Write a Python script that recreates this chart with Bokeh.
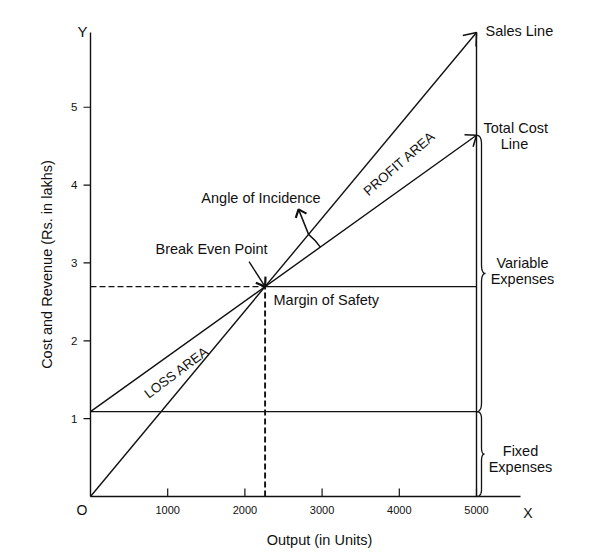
import math
import numpy as np
from bokeh.plotting import figure
from bokeh.models import Range1d, Label
from bokeh.core.properties import value
from bokeh.embed import file_html
from bokeh.resources import INLINE

# ---------------- data ----------------
output_units = [0, 5000]          # Output (in Units)
sales_revenue = [0.0, 5.96]       # Sales line (Rs. in lakhs)
total_cost = [1.09, 4.64]         # Total cost line
fixed_cost = [1.09, 1.09]         # Fixed expenses line
x_ticks = [1000, 2000, 3000, 4000, 5000]
x_tick_labels = ["1000", "2000", "3000", "4000", "5000"]
y_ticks = [1, 2, 3, 4, 5]
y_tick_labels = ["1", "2", "3", "4", "5"]

# ---------------- layout (pixel geometry of the drawing) ----------------
W, H = 600, 553
ORIGIN_PX = (90, 496)            # canvas position of the origin
X_SPAN_PX = 386                   # 0 -> 5000 units
Y_SPAN_PX = 464                   # 0 -> 5.96 lakhs
KX = X_SPAN_PX / output_units[1]
KY = Y_SPAN_PX / sales_revenue[1]
X_AXIS_END = (520 - ORIGIN_PX[0]) / KX

FONT = "Liberation Sans"
INK = "#111111"
LW = 1.4


def ox(px):
    return px / KX


def oy(px):
    return px / KY


def at_px(px, py):
    """canvas pixel position -> data coordinates (for annotations only)"""
    return (px - ORIGIN_PX[0]) / KX, (ORIGIN_PX[1] - py) / KY


x0d, y1d = at_px(0, 0)
x1d, y0d = at_px(W, H)

p = figure(width=W, height=H, x_range=Range1d(x0d, x1d), y_range=Range1d(y0d, y1d),
           output_backend="svg", toolbar_location=None,
           x_axis_location=None, y_axis_location=None,
           min_border_left=0, min_border_right=0, min_border_top=0, min_border_bottom=0)
p.background_fill_color = "white"
p.border_fill_color = "white"
p.outline_line_color = None
p.xgrid.grid_line_color = None
p.ygrid.grid_line_color = None

# ---------------- axes (drawn) ----------------
p.line([0, X_AXIS_END], [0, 0], line_color=INK, line_width=LW)
p.line([0, 0], [0, sales_revenue[1]], line_color=INK, line_width=LW)
p.segment(x0=x_ticks, y0=[0] * len(x_ticks), x1=x_ticks, y1=[oy(8)] * len(x_ticks),
          line_color=INK, line_width=1.2)
p.segment(x0=[ox(-7)] * len(y_ticks), y0=y_ticks, x1=[0] * len(y_ticks), y1=y_ticks,
          line_color=INK, line_width=1.2)
p.text(x=x_ticks, y=[0] * len(x_ticks), text=x_tick_labels, y_offset=13.5,
       text_align="center", text_baseline="middle", text_color=INK,
       text_font=value(FONT), text_font_size=value("11px"))
p.text(x=[0] * len(y_ticks), y=y_ticks, text=y_tick_labels, x_offset=-13,
       text_align="right", text_baseline="middle", text_color=INK,
       text_font=value(FONT), text_font_size=value("11.5px"))

# break-even point derived from the two lines
s_slope = (sales_revenue[1] - sales_revenue[0]) / (output_units[1] - output_units[0])
c_slope = (total_cost[1] - total_cost[0]) / (output_units[1] - output_units[0])
bep_x = (total_cost[0] - sales_revenue[0]) / (s_slope - c_slope)
bep_y = sales_revenue[0] + s_slope * bep_x

# ---------------- main lines ----------------
p.line(output_units, sales_revenue, line_color=INK, line_width=LW)
p.line(output_units, total_cost, line_color=INK, line_width=LW)
p.line(output_units, fixed_cost, line_color=INK, line_width=LW)
p.line([output_units[1], output_units[1]], [0, sales_revenue[1]], line_color=INK, line_width=LW)
p.line([bep_x, output_units[1]], [bep_y, bep_y], line_color=INK, line_width=LW)
p.line([0, bep_x], [bep_y, bep_y], line_color=INK, line_width=1.3, line_dash="6 3")
p.line([bep_x, bep_x], [0, bep_y], line_color=INK, line_width=1.9, line_dash="6 3")


def arrow_head(tx, ty, ang, length=13, half=math.radians(38)):
    xs, ys = [], []
    for s in (-1, 1):
        a = ang + math.pi + s * half
        xs.append(tx + ox(length * math.cos(a)))
        ys.append(ty + oy(length * math.sin(a)))
    return [xs[0], tx, xs[1]], [ys[0], ty, ys[1]]


ang_sales = math.atan2(s_slope * KY, KX)
ang_cost = math.atan2(c_slope * KY, KX)

heads_x, heads_y = [], []
hx, hy = arrow_head(output_units[1], sales_revenue[1], ang_sales, 14)
heads_x.append(hx); heads_y.append(hy)
hx, hy = arrow_head(output_units[1], total_cost[1], ang_cost, 12)
heads_x.append(hx); heads_y.append(hy)
p.multi_line(heads_x, heads_y, line_color=INK, line_width=1.5)

# break-even point pointer
bx0, by0 = bep_x + ox(-16), bep_y + oy(25)
p.line([bx0, bep_x], [by0, bep_y], line_color=INK, line_width=1.4)
hx, hy = arrow_head(bep_x, bep_y, math.atan2(-25, 16), 10, math.radians(35))
p.multi_line([hx], [hy], line_color=INK, line_width=2.2)

# angle of incidence arc and pointer
R = 68
p.arc(x=[bep_x], y=[bep_y], radius=R, radius_units="screen",
      start_angle=ang_cost, end_angle=ang_sales, direction="anticlock",
      line_color=INK, line_width=1.4)
ax0 = bep_x + ox(R * math.cos(ang_sales))
ay0 = bep_y + oy(R * math.sin(ang_sales))
ax1, ay1 = ax0 + ox(-10), ay0 + oy(25)
p.line([ax0, ax1], [ay0, ay1], line_color=INK, line_width=1.5)
hx, hy = arrow_head(ax1, ay1, math.atan2(25, -10), 9, math.radians(40))
p.multi_line([hx], [hy], line_color=INK, line_width=2.2)


# ---------------- curly braces right of the 5000 line ----------------
def quad(p0, c, p1, n=12):
    t = np.linspace(0, 1, n)
    return [(1 - t) ** 2 * p0[k] + 2 * (1 - t) * t * c[k] + t ** 2 * p1[k] for k in (0, 1)]


def brace(x0, y_top, y_bot, w=5, tip=9, r=9):
    top = 0.0
    bot = (y_top - y_bot) * KY
    mid = bot / 2
    segs = [
        quad((0, top), (w, top), (w, top + r)),
        [np.array([w, w]), np.array([top + r, mid - r])],
        quad((w, mid - r), (w, mid), (tip, mid)),
        quad((tip, mid), (w, mid), (w, mid + r)),
        [np.array([w, w]), np.array([mid + r, bot - r])],
        quad((w, bot - r), (w, bot), (0, bot)),
    ]
    xs = np.concatenate([s[0] for s in segs])
    ys = np.concatenate([s[1] for s in segs])
    return list(x0 + xs / KX), list(y_top - ys / KY)


bxs, bys = [], []
bx, by = brace(output_units[1], total_cost[1], fixed_cost[1], w=5, tip=9)
bxs.append(bx); bys.append(by)
bx, by = brace(output_units[1], fixed_cost[1], 0, w=5, tip=8, r=7)
bxs.append(bx); bys.append(by)
p.multi_line(bxs, bys, line_color=INK, line_width=1.3)


# ---------------- texts ----------------
def lab(px, py, text, align="left", size="14.5px", angle=0):
    x, y = at_px(px, py)
    p.add_layout(Label(x=x, y=y, text=text, text_align=align, text_baseline="middle",
                       text_font=FONT, text_font_size=size, text_color=INK,
                       angle=angle, angle_units="deg"))


lab(485, 30, "Sales Line")
lab(483, 127, "Total Cost")
lab(514, 143, "Line", "center")
lab(522, 262, "Variable", "center")
lab(522, 278, "Expenses", "center")
lab(520, 450, "Fixed", "center")
lab(520, 466, "Expenses", "center")
lab(260.5, 197, "Angle of Incidence", "center")
lab(211, 248, "Break Even Point", "center")
lab(273, 299, "Margin of Safety")
lab(399, 163, "PROFIT AREA", "center", "13.5px", 41)
lab(176, 372, "LOSS AREA", "center", "13.5px", 37)
lab(82, 31, "Y", "center", "15px")
lab(81.5, 509.5, "O", "center", "14px")
lab(527.5, 512, "X", "center", "14px")
lab(319, 539, "Output (in Units)", "center")
lab(46, 264, "Cost and Revenue (Rs. in lakhs)", "center", "14.5px", 90)

open("out.html", "w").write(file_html(p, INLINE))
